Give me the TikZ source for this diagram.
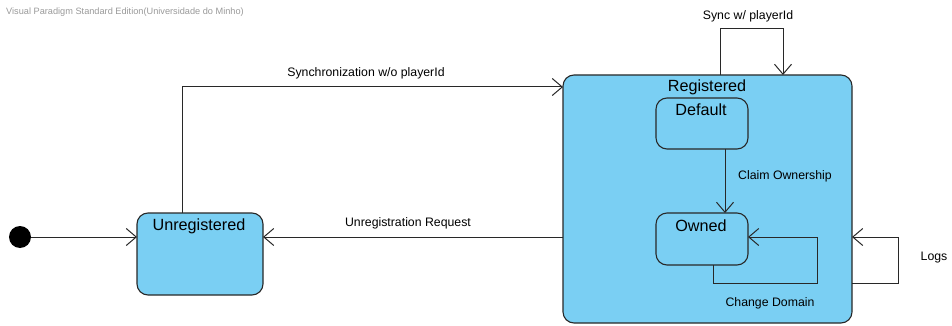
\documentclass[tikz,border=0pt]{standalone}
\usepackage{fontspec}
\setmainfont{Liberation Sans}
\usetikzlibrary{arrows.meta}
\definecolor{stfill}{RGB}{122,207,243}
\definecolor{stline}{RGB}{40,40,40}
\tikzset{
  state/.style={draw=stline, fill=stfill, line width=1.1pt, rounded corners=11pt},
  sname/.style={font=\fontsize{16.2}{18}\selectfont, anchor=center, inner sep=0pt},
  lbl/.style={font=\fontsize{12.3}{14}\selectfont, anchor=center, inner sep=0pt},
  trans/.style={draw=stline, line width=1pt, -{Straight Barb[length=10pt,width=17pt,line width=1pt]}},
}
\begin{document}
\begin{tikzpicture}[x=1pt,y=-1pt]
\useasboundingbox (0,0) rectangle (952,326);
% watermark
\node[anchor=west, inner sep=0pt, text=gray!80, font=\fontsize{9.2}{10}\selectfont] (wm) at (6,12) {Visual Paradigm Standard Edition(Universidade do Minho)};

% initial pseudo-state
\fill[black] (20,237) circle (11) coordinate (init);
\coordinate (initE) at (31,237);

% states
\draw[state] (137,213) rectangle (263,295);
\coordinate (unregN) at (182,213);
\coordinate (unregW) at (137,237);
\coordinate (unregE) at (263,237);
\node[sname] (unreg) at (199,226) {Unregistered};

\draw[state] (563,75) rectangle (852,323);
\node[sname] (reg) at (707,87) {Registered};
\coordinate (regW1) at (563,87);
\coordinate (regW2) at (563,237);
\coordinate (regN1) at (720,75);
\coordinate (regN2) at (783,75);
\coordinate (regE1) at (852,283);
\coordinate (regE2) at (852,237);

\draw[state] (656,98) rectangle (748,149);
\node[sname] (def) at (701,110) {Default};
\coordinate (defS) at (725,149);

\draw[state] (656,213) rectangle (748,265);
\node[sname] (own) at (701,226) {Owned};
\coordinate (ownN) at (725,213);
\coordinate (ownS) at (713,265);
\coordinate (ownE) at (748,237);

% transitions
\draw[trans] (initE) -- (unregW);
\draw[trans] (unregN) |- (regW1);
\node[lbl] (l1) at (366,73) {Synchronization w/o playerId};
\draw[trans] (regW2) -- (unregE);
\node[lbl] (l2) at (408,223) {Unregistration Request};
\draw[trans] (regN1) -- (720,29) -- (783,29) -- (regN2);
\node[lbl] (l3) at (748,16) {Sync w/ playerId};
\draw[trans] (defS) -- (ownN);
\node[lbl] (l4) at (785,176) {Claim Ownership};
\draw[trans] (ownS) -- (713,283) -- (817,283) -- (817,237) -- (ownE);
\node[lbl] (l5) at (770,303) {Change Domain};
\draw[trans] (regE1) -- (898,283) -- (898,237) -- (regE2);
\node[lbl] (l6) at (934,258) {Logs};
\end{tikzpicture}
\end{document}
